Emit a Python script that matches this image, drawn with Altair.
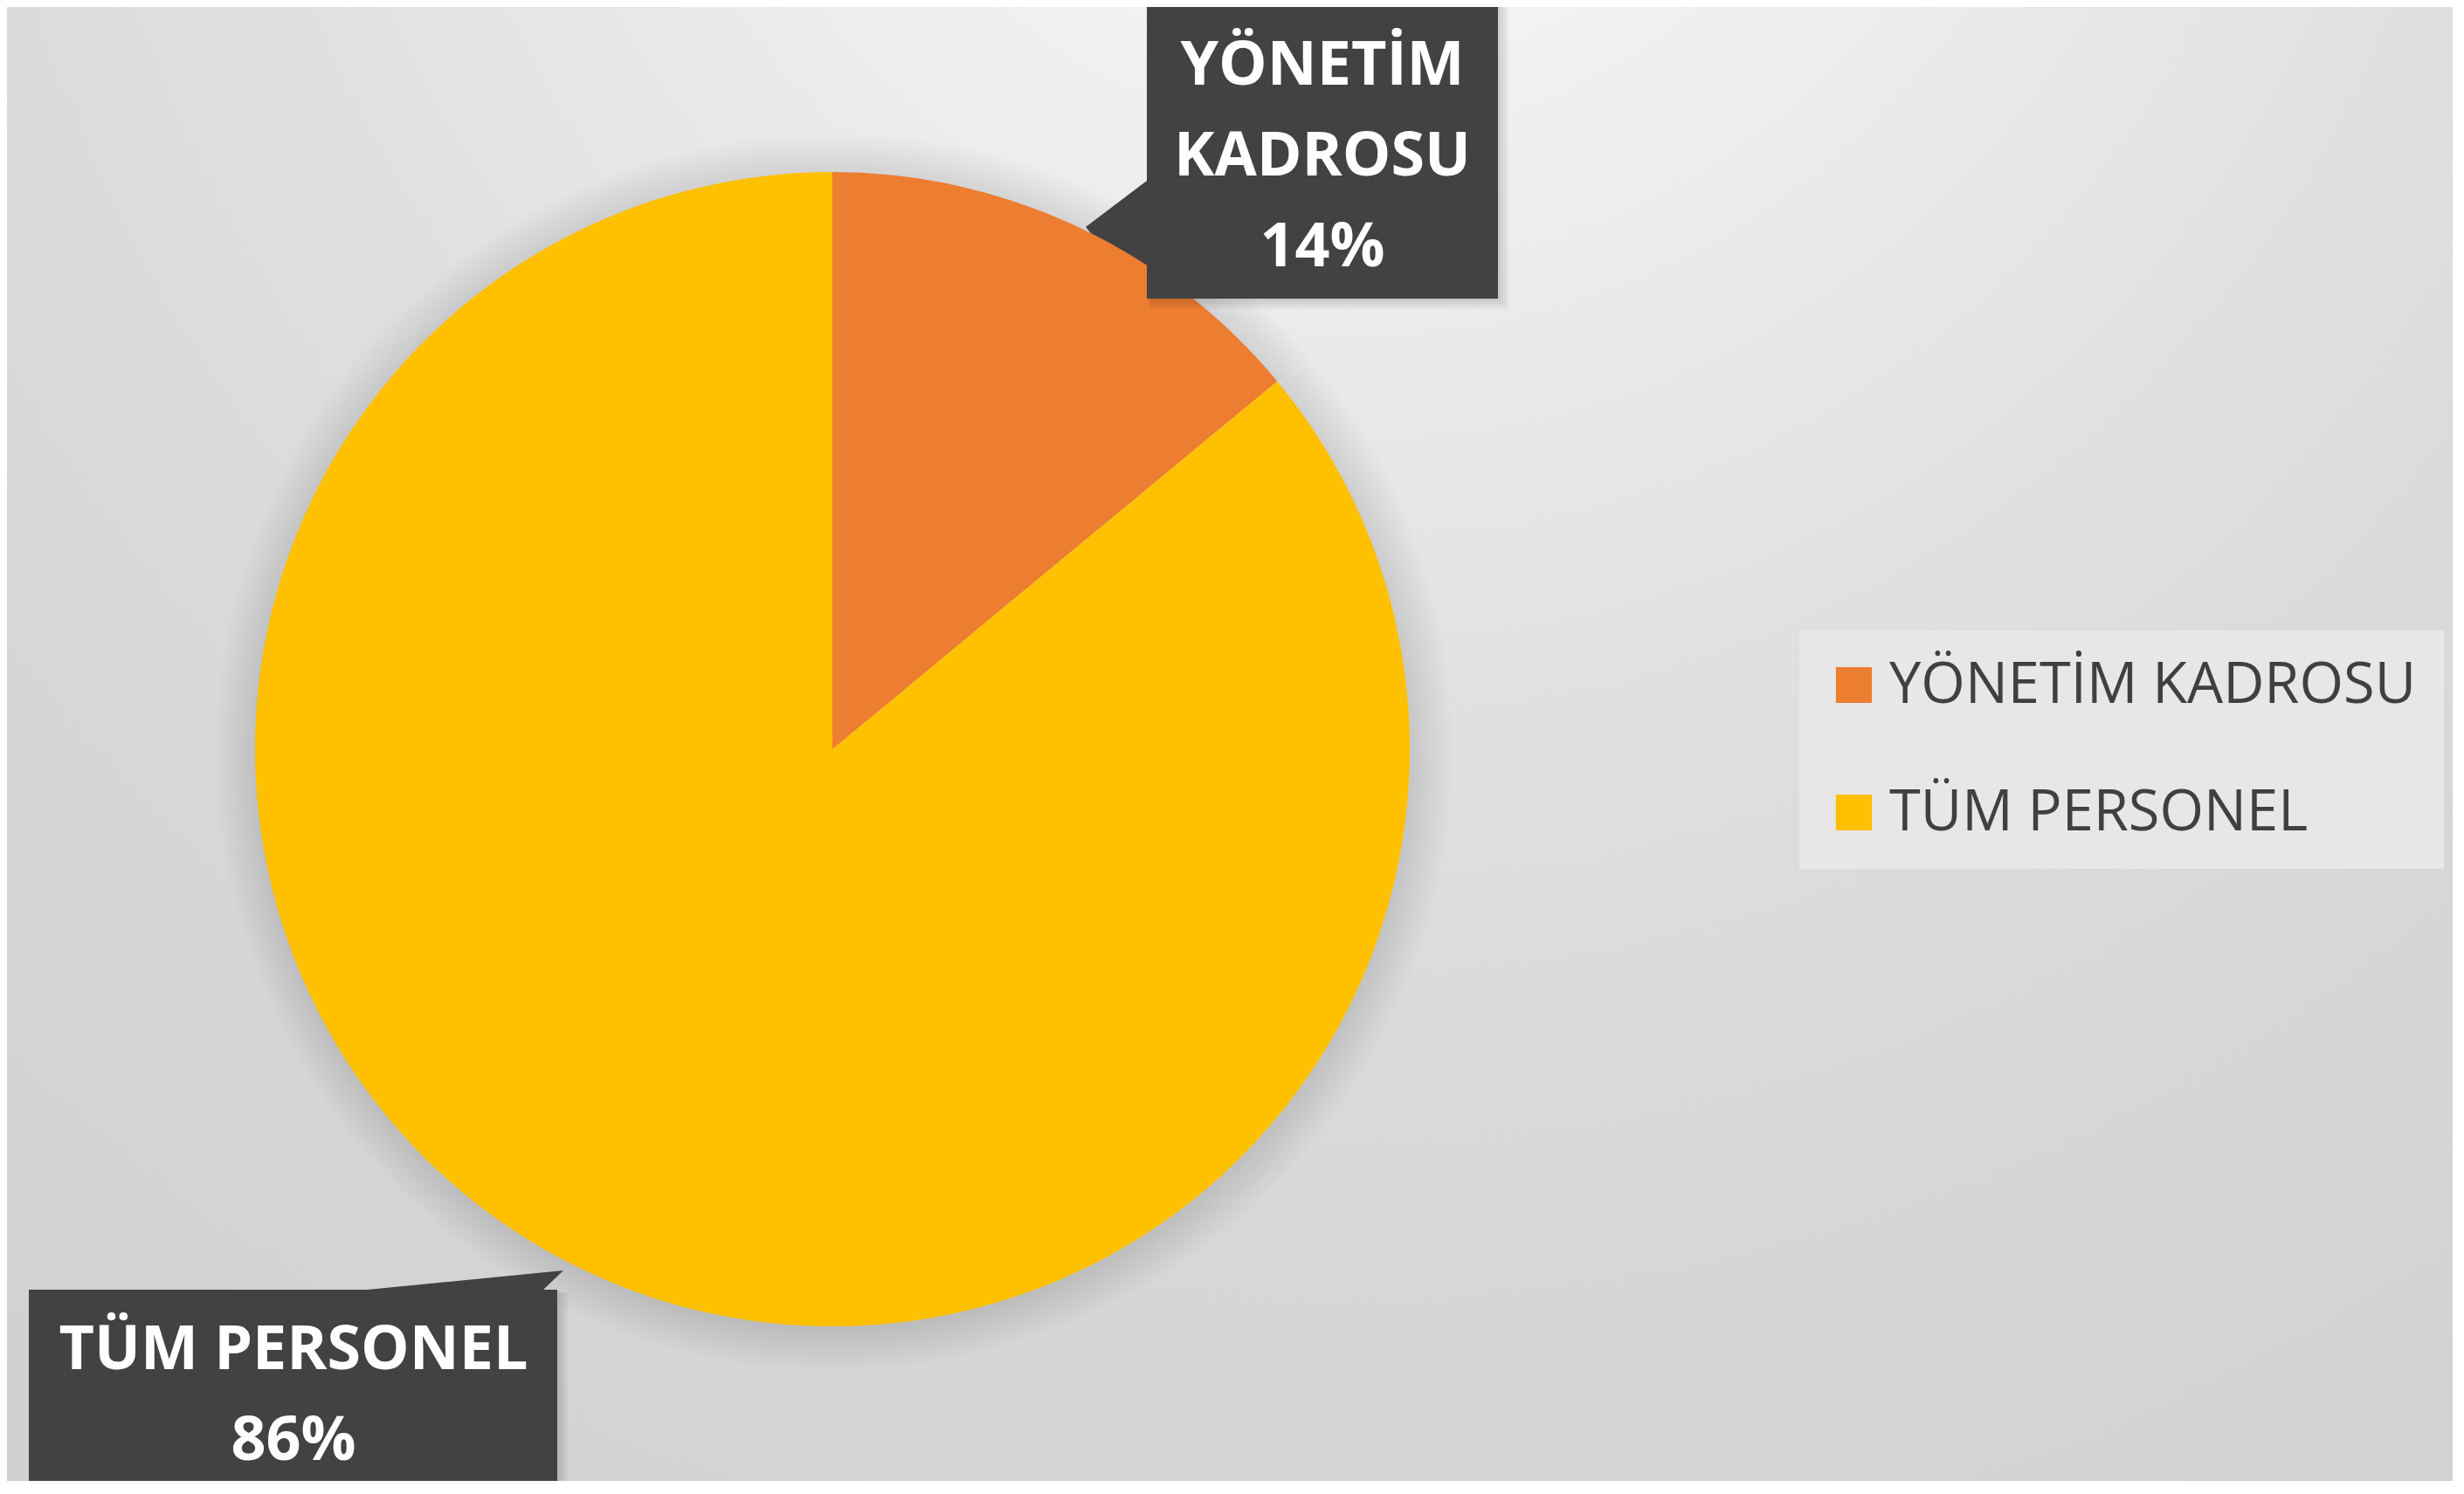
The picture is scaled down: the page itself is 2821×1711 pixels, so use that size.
import altair as alt
import pandas as pd

# ---- data ----
categories = ["YÖNETİM KADROSU", "TÜM PERSONEL"]
values = [14, 86]
slice_colors = ["#ED7D31", "#FFC000"]

df = pd.DataFrame({"cat": categories, "value": values, "idx": list(range(len(categories)))})

W, H = 2800, 1688
BOX = "#424242"
CX, CY, R = 945, 850, 661

base = alt.Chart().transform_joinaggregate(total="sum(value)")

# background radial gradient
bg = base.transform_filter("datum.idx == 0").mark_rect(
    fill={
        "gradient": "radial",
        "x1": 0.55, "y1": 0.03, "r1": 0,
        "x2": 0.55, "y2": 0.03, "r2": 1.1,
        "stops": [
            {"offset": 0.0, "color": "#ffffff"},
            {"offset": 0.18, "color": "#f1f1f1"},
            {"offset": 0.41, "color": "#e1e1e1"},
            {"offset": 0.5, "color": "#dcdcdc"},
            {"offset": 0.64, "color": "#d6d6d6"},
            {"offset": 0.88, "color": "#d0d0d0"},
            {"offset": 1.0, "color": "#cccccc"},
        ],
    }
).encode(x=alt.value(0), x2=alt.value(W), y=alt.value(0), y2=alt.value(H))

# soft shadow around the pie
shadow_layers = [
    base.mark_arc(radius=R + 4 + 6 * i, color="black", opacity=0.011, stroke=None).encode(
        theta=alt.Theta("value:Q", stack=True), order=alt.Order("idx:Q"),
        x=alt.value(CX + 2), y=alt.value(CY + 3),
    )
    for i in range(8)
]

pie = base.mark_arc(radius=R, stroke=None).encode(
    theta=alt.Theta("value:Q", stack=True),
    order=alt.Order("idx:Q"),
    color=alt.Color(
        "cat:N",
        scale=alt.Scale(domain=categories, range=slice_colors),
        sort=categories,
        legend=alt.Legend(
            title=None,
            orient="none",
            legendX=2052,
            legendY=714,
            padding=30,
            fillColor="#e7e7e7",
            strokeColor="#e7e7e7",
            symbolType="square",
            symbolSize=1700,
            symbolStrokeWidth=0,
            labelFont="Open Sans",
            labelFontSize=65,
            labelColor="#404040",
            labelOffset=8,
            labelLimit=2000,
            rowPadding=80,
        ),
    ),
    x=alt.value(CX),
    y=alt.value(CY),
)

# callout pointers (drawn beneath the pie)
ptr1 = base.transform_filter("datum.idx == 0").mark_point(
    shape="M -0.7 -0.15 L 0 -0.68 L 0 0.68 Z", filled=True, opacity=1, strokeWidth=0, color=BOX, size=40000
).encode(x=alt.value(1305), y=alt.value(267))
ptr2 = base.transform_filter("datum.idx == 1").mark_point(
    shape="M -2 0.02 L 0.45 -0.22 L 0.2 0.02 Z", filled=True, opacity=1, strokeWidth=0, color=BOX, size=40000
).encode(x=alt.value(592), y=alt.value(1469))

# box shadows
box_shadows = []
for i in range(1, 5):
    box_shadows.append(
        base.transform_filter("datum.idx == 0").mark_rect(color="black", opacity=0.035).encode(
            x=alt.value(1305 + i), x2=alt.value(1707 + 3 * i), y=alt.value(0), y2=alt.value(334 + 3 * i)
        )
    )
    box_shadows.append(
        base.transform_filter("datum.idx == 1").mark_rect(color="black", opacity=0.035).encode(
            x=alt.value(25 + i), x2=alt.value(630 + 3 * i), y=alt.value(1469 + i), y2=alt.value(H)
        )
    )

# label boxes
box1 = base.transform_filter("datum.idx == 0").mark_rect(color=BOX).encode(
    x=alt.value(1305), x2=alt.value(1707), y=alt.value(0), y2=alt.value(334)
)
box2 = base.transform_filter("datum.idx == 1").mark_rect(color=BOX).encode(
    x=alt.value(25), x2=alt.value(630), y=alt.value(1469), y2=alt.value(H)
)

txt_style = dict(font="Open Sans", fontWeight="bold", fontSize=70, color="white",
                 lineHeight=104, lineBreak="\n", align="center", baseline="middle")

lab1 = base.transform_filter("datum.idx == 0").transform_calculate(
    lab="replace(datum.cat, ' ', '\\n') + '\\n' + format(datum.value / datum.total, '.0%')"
).mark_text(**txt_style).encode(text="lab:N", x=alt.value(1506), y=alt.value(68))

lab2 = base.transform_filter("datum.idx == 1").transform_calculate(
    lab="datum.cat + '\\n' + format(datum.value / datum.total, '.0%')"
).mark_text(**txt_style).encode(text="lab:N", x=alt.value(328), y=alt.value(1539))

chart = alt.layer(bg, *shadow_layers, ptr1, ptr2, pie, *box_shadows, box1, box2, lab1, lab2, data=df).properties(
    width=W, height=H, padding=0, background="white"
).configure_view(strokeWidth=0)

chart.save("out.html", embed_options={"renderer": "svg", "actions": False})
